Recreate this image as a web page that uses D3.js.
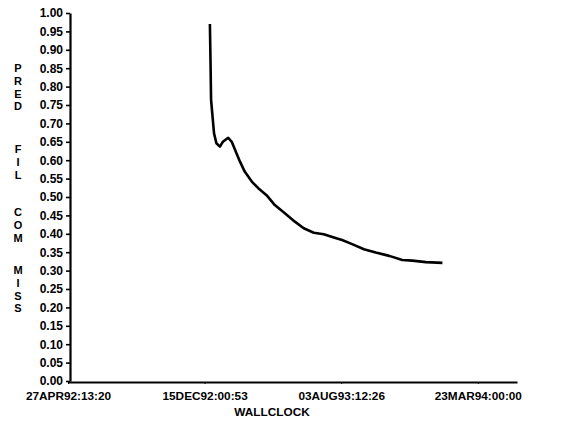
<!DOCTYPE html>
<html>
<head>
<meta charset="utf-8">
<script src="https://cdn.jsdelivr.net/npm/d3@7"></script>
<style>
  body { margin: 0; background: #fff; }
  svg text { font-family: "Liberation Sans", Arial, sans-serif; font-weight: bold; fill: #000; }
</style>
</head>
<body>
<svg id="chart" width="565" height="424"></svg>
<script>
// ---------- data ----------
const wallclock = [
  "1992-12-24", "1992-12-25", "1992-12-26", "1992-12-31", "1993-01-04",
  "1993-01-10", "1993-01-15", "1993-01-24", "1993-01-30", "1993-02-07",
  "1993-02-13", "1993-02-21", "1993-03-05", "1993-03-16", "1993-03-30",
  "1993-04-13", "1993-04-30", "1993-05-17", "1993-06-01", "1993-06-18",
  "1993-07-05", "1993-07-22", "1993-08-05", "1993-08-22", "1993-09-11",
  "1993-10-01", "1993-10-24", "1993-11-15", "1993-12-02", "1993-12-25",
  "1994-01-22"
];
const predFilComMiss = [
  0.970, 0.872, 0.764, 0.673, 0.646,
  0.637, 0.650, 0.661, 0.650, 0.619,
  0.596, 0.569, 0.542, 0.524, 0.505,
  0.478, 0.456, 0.433, 0.415, 0.403,
  0.399, 0.390, 0.383, 0.372, 0.358,
  0.349, 0.340, 0.329, 0.327, 0.323,
  0.321
];
const xTickLabels = ["27APR92:13:20", "15DEC92:00:53", "03AUG93:12:26", "23MAR94:00:00"];
const yTicks = d3.range(0, 21).map(i => i * 0.05);
const yLabelWords = ["PRED", "FIL", "COM", "MISS"];
const xAxisEnd = "28MAY94:09:00";

// ---------- scales ----------
const parseSas = d3.timeParse("%d%b%y:%H:%M");
const parseDay = d3.timeParse("%Y-%m-%d");
const data = wallclock.map((d, i) => ({ t: parseDay(d), v: predFilComMiss[i] }));
const tickDates = xTickLabels.map(parseSas);

const svg = d3.select("#chart");
const x0 = 70, y0 = 381, yTop = 13;

const x = d3.scaleTime()
  .domain([tickDates[0], parseSas(xAxisEnd)])
  .range([x0 - 2, 517]);
const y = d3.scaleLinear().domain([0, 1]).range([y0, yTop]);

// ---------- y axis ----------
const yAxis = d3.axisLeft(y)
  .tickValues(yTicks)
  .tickFormat(d3.format(".2f"))
  .tickSize(4)
  .tickSizeOuter(0)
  .tickPadding(3);
const gy = svg.append("g").attr("transform", `translate(${x0},0)`).call(yAxis);
gy.select(".domain").attr("stroke-width", 2.2);
gy.selectAll(".tick line").attr("stroke-width", 1.6);
gy.selectAll("text").attr("font-size", 12).attr("font-family", null);

// ---------- x axis ----------
const xAxis = d3.axisBottom(x)
  .tickValues(tickDates)
  .tickFormat((d, i) => xTickLabels[i])
  .tickSize(2)
  .tickSizeOuter(0)
  .tickPadding(8);
const gx = svg.append("g").attr("transform", `translate(0,${y0 + 1})`).call(xAxis);
gx.select(".domain").attr("stroke-width", 2.2);
gx.selectAll("text").attr("font-size", 11.8).attr("font-family", null);

svg.append("text")
  .attr("x", 272).attr("y", 416)
  .attr("text-anchor", "middle")
  .attr("font-size", 11.8)
  .text("WALLCLOCK");

// vertical stacked y label
const wordStarts = [68, 149, 212, 270];
const yl = svg.append("g");
yLabelWords.forEach((w, wi) => {
  w.split("").forEach((ch, ci) => {
    yl.append("text")
      .attr("x", 18).attr("y", wordStarts[wi] + ci * 12.8 + 4)
      .attr("text-anchor", "middle")
      .attr("font-size", 11)
      .text(ch);
  });
});

// ---------- line ----------
const line = d3.line().x(d => x(d.t)).y(d => y(d.v));
svg.append("path")
  .datum(data)
  .attr("fill", "none")
  .attr("stroke", "#000")
  .attr("stroke-width", 2.6)
  .attr("stroke-linejoin", "round")
  .attr("d", line);
</script>
</body>
</html>
